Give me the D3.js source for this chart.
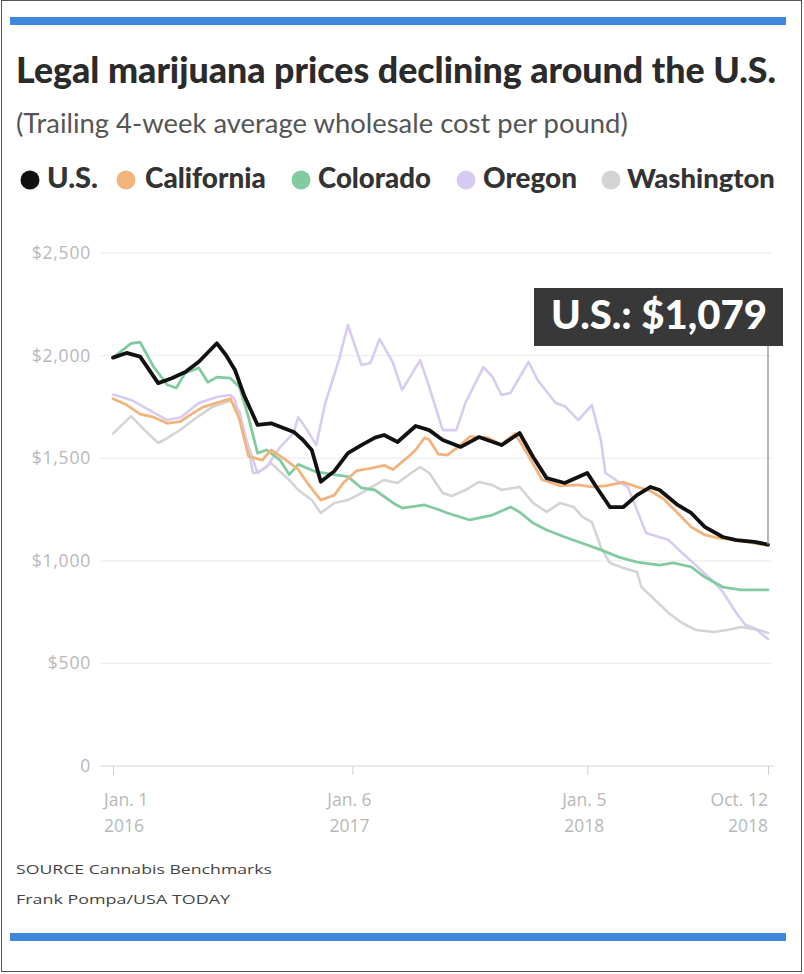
<!DOCTYPE html>
<html>
<head>
<meta charset="utf-8">
<script src="https://cdn.jsdelivr.net/npm/d3@7"></script>
<style>
  html, body { margin: 0; padding: 0; background: #fff; }
  svg { display: block; }
</style>
</head>
<body>
<svg id="chart" width="804" height="974"></svg>
<script>
// ---------- DATA (week offset from Jan. 1 2016, wholesale $ per pound) ----------
const startDate = new Date(2016, 0, 1);
const endDate = new Date(2018, 9, 12);

const seriesNames = ["U.S.", "California", "Colorado", "Oregon", "Washington"];

const usData = [[0,1990],[3,2013],[6,1995],[10,1866],[13,1890],[16,1920],[19,1970],[23,2060],[25,2003],[27,1930],[29,1808],[32,1662],[35,1670],[40,1628],[42,1590],[44,1540],[46,1385],[49,1437],[52,1525],[55,1564],[58,1600],[60,1613],[63,1579],[67,1657],[70,1637],[73,1589],[77,1555],[81,1603],[86,1564],[90,1623],[93,1506],[96,1403],[100,1379],[105,1428],[107,1360],[110,1262],[113,1262],[116,1320],[119,1360],[121,1345],[125,1272],[128,1233],[131,1165],[135,1116],[138,1101],[142,1092],[145,1079]];

const californiaData = [[0,1790],[3,1760],[6,1715],[9,1700],[12,1670],[15,1680],[17,1710],[20,1750],[23,1770],[26,1790],[28,1690],[30,1510],[33,1490],[35,1540],[38,1495],[41,1445],[43,1380],[46,1296],[49,1320],[51,1380],[54,1440],[57,1450],[60,1465],[62,1445],[65,1500],[67,1540],[69,1600],[70,1590],[72,1520],[74,1515],[77,1565],[79,1605],[83,1600],[86,1565],[89,1620],[92,1510],[95,1395],[99,1365],[103,1370],[106,1360],[109,1365],[113,1383],[116,1360],[119,1340],[122,1300],[125,1233],[128,1165],[131,1126],[134,1110],[137,1105],[141,1090],[145,1075]];

const coloradoData = [[0,1990],[4,2060],[6,2065],[9,1945],[12,1858],[14,1842],[16,1915],[19,1940],[21,1870],[23,1895],[26,1890],[28,1847],[30,1700],[32,1525],[34,1540],[37,1490],[39,1420],[41,1470],[45,1433],[49,1420],[52,1410],[55,1355],[58,1345],[62,1282],[64,1257],[69,1272],[72,1250],[74,1233],[79,1199],[84,1223],[88,1262],[90,1238],[93,1184],[96,1150],[100,1116],[105,1077],[108,1053],[112,1018],[116,994],[121,979],[124,990],[128,970],[131,921],[135,872],[139,858],[145,858]];

const oregonData = [[0,1810],[4,1784],[8,1735],[12,1686],[15,1700],[19,1769],[23,1798],[26,1808],[27,1784],[29,1623],[32,1428],[34,1457],[37,1554],[40,1623],[41,1700],[43,1637],[45,1564],[47,1769],[50,1978],[52,2149],[55,1954],[57,1964],[59,2081],[62,1964],[64,1832],[68,1978],[70,1847],[73,1637],[76,1637],[78,1769],[82,1944],[84,1896],[86,1808],[88,1818],[92,1969],[94,1881],[98,1769],[100,1754],[103,1686],[106,1759],[108,1589],[109,1428],[112,1384],[114,1360],[116,1247],[118,1135],[123,1101],[126,1038],[129,979],[133,897],[135,848],[138,746],[140,687],[142,672],[145,619]];

const washingtonData = [[0,1620],[4,1705],[7,1637],[10,1574],[12,1598],[15,1640],[18,1690],[22,1750],[26,1780],[28,1730],[30,1540],[31,1428],[32,1430],[35,1476],[39,1394],[41,1345],[44,1296],[46,1233],[49,1282],[52,1296],[55,1330],[60,1394],[63,1379],[66,1428],[68,1457],[70,1428],[73,1330],[75,1316],[78,1345],[81,1384],[84,1369],[86,1345],[90,1360],[93,1282],[96,1238],[99,1282],[102,1262],[104,1213],[106,1189],[108,1067],[110,989],[113,965],[116,945],[117,872],[120,809],[123,746],[126,697],[129,663],[133,653],[136,663],[139,677],[143,663],[145,648]];

const yTicks = [0, 500, 1000, 1500, 2000, 2500];
const yTickLabels = ["0", "$500", "$1,000", "$1,500", "$2,000", "$2,500"];
const xTickDates = [new Date(2016,0,1), new Date(2017,0,6), new Date(2018,0,5), new Date(2018,9,12)];
const xTickLine1 = ["Jan. 1", "Jan. 6", "Jan. 5", "Oct. 12"];
const xTickLine2 = ["2016", "2017", "2018", "2018"];

const titleText = "Legal marijuana prices declining around the U.S.";
const subtitleText = "(Trailing 4-week average wholesale cost per pound)";
const sourceLines = ["SOURCE Cannabis Benchmarks", "Frank Pompa/USA TODAY"];
const calloutText = "U.S.: $1,079";

// ---------- STYLE ----------
const colors = {
  "U.S.": "#111111",
  "California": "#f2b47c",
  "Colorado": "#82cba0",
  "Oregon": "#d8cbf2",
  "Washington": "#d4d4d4"
};
const widths = { "U.S.": 3.8, "California": 2.8, "Colorado": 2.8, "Oregon": 2.6, "Washington": 2.6 };

const svg = d3.select("#chart");

// outer frame
svg.append("rect").attr("x", 1.5).attr("y", 0.5).attr("width", 800).attr("height", 971)
  .attr("fill", "#fff").attr("stroke", "#555").attr("stroke-width", 1);

// blue bars
svg.append("rect").attr("x", 10).attr("y", 17).attr("width", 776).attr("height", 8).attr("fill", "#3f87da");
svg.append("rect").attr("x", 10).attr("y", 933).attr("width", 776).attr("height", 8).attr("fill", "#3f87da");

function fitWidth(sel, target) {
  const w = sel.node().getComputedTextLength();
  const fs = parseFloat(sel.attr("font-size"));
  sel.attr("font-size", (fs * target / w).toFixed(2));
}

// title
const title = svg.append("text").attr("x", 16).attr("y", 83)
  .attr("font-family", "Lato, 'Open Sans', sans-serif").attr("font-weight", 900)
  .attr("font-size", 28).attr("fill", "#2b2b2b").text(titleText);
fitWidth(title, 760);

const subtitle = svg.append("text").attr("x", 16).attr("y", 133)
  .attr("font-family", "Lato, 'Open Sans', sans-serif").attr("font-weight", 400)
  .attr("font-size", 22).attr("fill", "#555").text(subtitleText);
fitWidth(subtitle, 612);

// legend
const legendItems = [
  { name: "U.S.", cx: 30, tx: 47, tw: 51 },
  { name: "California", cx: 126, tx: 145, tw: 121 },
  { name: "Colorado", cx: 301, tx: 318, tw: 113 },
  { name: "Oregon", cx: 466, tx: 483, tw: 94 },
  { name: "Washington", cx: 611, tx: 627, tw: 148 }
];
const lg = svg.append("g");
legendItems.forEach(d => {
  lg.append("circle").attr("cx", d.cx).attr("cy", 180).attr("r", 9.5).attr("fill", colors[d.name]);
  const t = lg.append("text").attr("x", d.tx).attr("y", 188)
    .attr("font-family", "Lato, 'Open Sans', sans-serif").attr("font-weight", 900)
    .attr("font-size", 21).attr("fill", "#333").text(d.name);
  fitWidth(t, d.tw);
});

// scales
const x = d3.scaleTime().domain([startDate, endDate]).range([113, 768]);
const y = d3.scaleLinear().domain([0, 2500]).range([766, 253]);
const weekDate = w => d3.timeDay.offset(startDate, w * 7);

// grid
const grid = svg.append("g");
yTicks.forEach((v, i) => {
  if (v > 0) {
    grid.append("line").attr("x1", 100).attr("x2", 772).attr("y1", y(v)).attr("y2", y(v))
      .attr("stroke", "#eeeeee").attr("stroke-width", 1.2);
  }
  grid.append("text").attr("x", 91).attr("y", y(v) + 6).attr("text-anchor", "end")
    .attr("font-family", "'Open Sans', sans-serif").attr("font-size", 17.5)
    .attr("letter-spacing", 0.8)
    .attr("fill", "#b8b8b8").text(yTickLabels[i]);
});

// x axis
const xAxis = d3.axisBottom(x).tickValues(xTickDates).tickSize(9).tickFormat("");
const xg = svg.append("g").attr("transform", `translate(0,${y(0)})`).call(xAxis);
xg.select(".domain").attr("d", "M100,0H774").attr("stroke", "#d8d8d8").attr("stroke-width", 1.2);
xg.selectAll(".tick line").attr("stroke", "#d0d0d0");

xTickDates.forEach((d, i) => {
  let anchor = "middle", px = x(d) - 3;
  if (i === 0) { anchor = "start"; px = x(d) - 9; }
  if (i === xTickDates.length - 1) { anchor = "end"; px = x(d); }
  [xTickLine1[i], xTickLine2[i]].forEach((s, j) => {
    svg.append("text").attr("x", px).attr("y", 806 + j * 26).attr("text-anchor", anchor)
      .attr("font-family", "'Open Sans', sans-serif").attr("font-size", 17.5)
      .attr("fill", "#b8b8b8").text(s);
  });
});

// lines
const line = d3.line().x(d => x(weekDate(d[0]))).y(d => y(d[1])).curve(d3.curveLinear);
const drawOrder = [
  ["Washington", washingtonData],
  ["Oregon", oregonData],
  ["Colorado", coloradoData],
  ["California", californiaData],
  ["U.S.", usData]
];
const lines = svg.append("g");
drawOrder.forEach(([name, data]) => {
  lines.append("path").datum(data).attr("d", line).attr("fill", "none")
    .attr("stroke", colors[name]).attr("stroke-width", widths[name])
    .attr("stroke-linejoin", "round").attr("stroke-linecap", "round");
});

// callout
const last = usData[usData.length - 1];
const lx = x(weekDate(last[0]));
svg.append("line").attr("x1", lx).attr("x2", lx).attr("y1", 346).attr("y2", y(last[1]))
  .attr("stroke", "#a0a0a0").attr("stroke-width", 1.5);
svg.append("rect").attr("x", 534).attr("y", 288).attr("width", 249).attr("height", 58).attr("fill", "#383838");
const ct = svg.append("text").attr("x", 659).attr("y", 329).attr("text-anchor", "middle")
  .attr("font-family", "Lato, 'Open Sans', sans-serif").attr("font-weight", 900)
  .attr("font-size", 30).attr("fill", "#ffffff").text(calloutText);
fitWidth(ct, 216);

// source
sourceLines.forEach((s, i) => {
  const t = svg.append("text").attr("x", 16).attr("y", 874 + i * 30)
    .attr("font-family", "'Liberation Sans Narrow', 'Open Sans', sans-serif")
    .attr("font-size", 13).attr("fill", "#444").text(s);
  t.attr("textLength", i === 0 ? 256 : 214).attr("lengthAdjust", "spacingAndGlyphs");
});
</script>
</body>
</html>
